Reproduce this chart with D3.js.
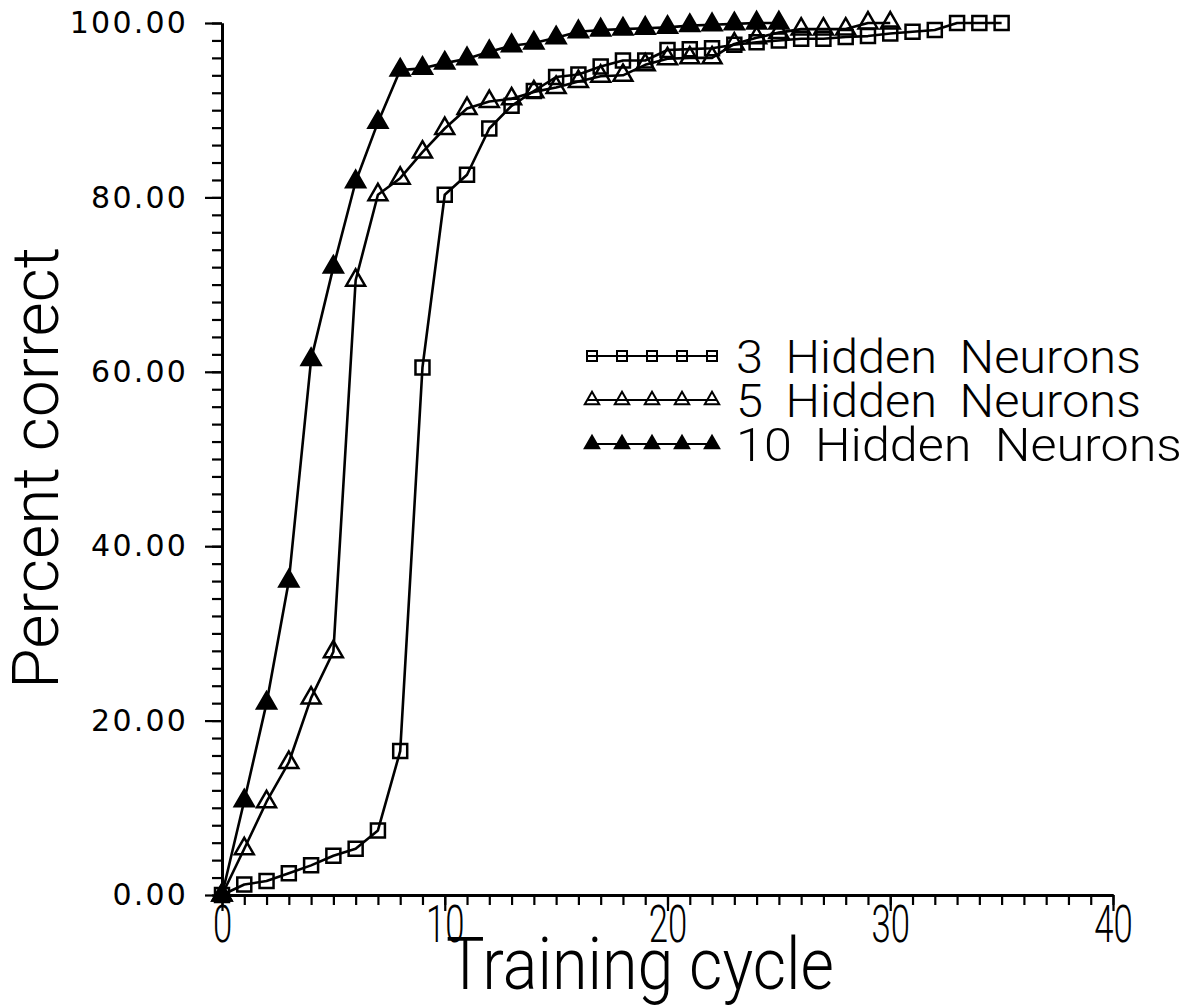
<!DOCTYPE html>
<html>
<head>
<meta charset="utf-8">
<script src="https://cdn.jsdelivr.net/npm/d3@7"></script>
<style>
  body { margin: 0; background: #fff; }
  svg { display: block; }
</style>
</head>
<body>
<svg id="chart" width="1195" height="1008"></svg>
<script>
// Percent correct per training cycle (index = cycle number)
const seriesNames = ["3 Hidden Neurons", "5 Hidden Neurons", "10 Hidden Neurons"];
const hidden3 = [0, 1.2, 1.6, 2.5, 3.4, 4.5, 5.3, 7.4, 16.5, 60.5, 80.3, 82.6, 87.9, 90.5, 92.2,
                 93.8, 94.1, 95.0, 95.7, 95.7, 96.9, 97.0, 97.1, 97.5, 97.8, 98.0, 98.2, 98.2,
                 98.4, 98.5, 98.8, 99.0, 99.2, 100, 100, 100];
const hidden5 = [0, 5.3, 10.7, 15.2, 22.6, 27.9, 70.5, 80.3, 82.2, 85.2, 87.9, 90.2, 91.0, 91.3,
                 92.1, 92.6, 93.3, 93.9, 94.0, 95.2, 95.9, 96.0, 96.0, 97.6, 98.3, 98.9, 99.3,
                 99.3, 99.3, 100, 100];
const hidden10 = [0, 10.8, 22.0, 36.0, 61.4, 72.0, 81.8, 88.6, 94.6, 94.8, 95.4, 95.9, 96.7, 97.4,
                  97.7, 98.3, 99.0, 99.2, 99.3, 99.4, 99.5, 99.7, 99.8, 99.9, 100, 100];
const xTicks = [0, 10, 20, 30, 40];
const yTicks = [0, 20, 40, 60, 80, 100];
const xMinorTicks = [0,1,2,3,4,5,6,7,8,9,10,11,12,13,14,15,16,17,18,19,20,21,22,23,24,25,26,27,28,29,30,31,32,33,34,35,36,37,38,39,40];
const yMinorTicks = [0,2,4,6,8,10,12,14,16,18,20,22,24,26,28,30,32,34,36,38,40,42,44,46,48,50,
                     52,54,56,58,60,62,64,66,68,70,72,74,76,78,80,82,84,86,88,90,92,94,96,98,100];

const svg = d3.select("#chart");
const x = d3.scaleLinear().domain([0, 40]).range([222, 1113]);
const y = d3.scaleLinear().domain([0, 100]).range([895, 23]);

const labelFont = "Roboto, 'DejaVu Sans', sans-serif";

// squeeze a text element horizontally to a given width
function fitWidth(sel, w) {
  sel.each(function () {
    const len = this.getComputedTextLength();
    const cur = d3.select(this);
    const base = cur.attr("transform") || "";
    cur.attr("transform", base + ` scale(${w / len},1)`);
  });
}

// ---- axes ----
const styleAxis = g => {
  g.selectAll("path.domain").attr("stroke", "#000").attr("stroke-width", 3);
  g.selectAll(".tick line").attr("stroke", "#000").attr("stroke-width", 2.2);
};

svg.append("g").attr("transform", "translate(222,0)")
  .call(d3.axisLeft(y).tickValues(yMinorTicks).tickSize(10).tickSizeOuter(0).tickFormat(""))
  .call(styleAxis);
const yAxis = svg.append("g").attr("transform", "translate(222,0)")
  .call(d3.axisLeft(y).tickValues(yTicks).tickSize(17).tickSizeOuter(0).tickPadding(17)
        .tickFormat(d3.format(".2f")))
  .call(styleAxis);
yAxis.selectAll("text")
  .attr("font-family", "'DejaVu Sans', sans-serif")
  .attr("font-size", 30)
  .attr("letter-spacing", 2.2)
  .attr("fill", "#000");

svg.append("g").attr("transform", "translate(0,895)")
  .call(d3.axisBottom(x).tickValues(xMinorTicks).tickSize(10).tickSizeOuter(0).tickFormat(""))
  .call(styleAxis);
const xAxis = svg.append("g").attr("transform", "translate(0,895)")
  .call(d3.axisBottom(x).tickValues(xTicks).tickSize(16).tickSizeOuter(0).tickPadding(-6)
        .tickFormat(d3.format("d")))
  .call(styleAxis);
xAxis.selectAll("text")
  .attr("font-family", labelFont)
  .attr("font-weight", 300)
  .attr("font-size", 51)
  .attr("dy", "0.72em")
  .attr("fill", "#000")
  .attr("transform", "scale(0.68,1)");

// axis titles
const xTitle = svg.append("text")
  .attr("text-anchor", "middle")
  .attr("font-family", labelFont).attr("font-weight", 300)
  .attr("font-size", 73)
  .attr("transform", "translate(640,989)")
  .text("Training cycle");
fitWidth(xTitle, 388);

const yTitle = svg.append("text")
  .attr("text-anchor", "middle")
  .attr("font-family", labelFont).attr("font-weight", 300)
  .attr("font-size", 64)
  .attr("transform", "translate(58,468) rotate(-90)")
  .text("Percent correct");
fitWidth(yTitle, 442);

// ---- series ----
const series = [
  { name: seriesNames[0], values: hidden3,  type: d3.symbolSquare,   size: 196, fill: "none" },
  { name: seriesNames[1], values: hidden5,  type: d3.symbolTriangle, size: 155, fill: "none" },
  { name: seriesNames[2], values: hidden10, type: d3.symbolTriangle, size: 155, fill: "#000" }
];

const line = d3.line().x((d, i) => x(i)).y(d => y(d));

series.forEach(s => {
  svg.append("path")
    .datum(s.values)
    .attr("d", line)
    .attr("fill", "none")
    .attr("stroke", "#000")
    .attr("stroke-width", 2.6)
    .attr("stroke-linejoin", "round");
});

series.forEach(s => {
  const sym = d3.symbol().type(s.type).size(s.size);
  svg.append("g").selectAll("path")
    .data(s.values)
    .join("path")
    .attr("d", sym)
    .attr("transform", (d, i) => `translate(${x(i)},${y(d)})`)
    .attr("fill", s.fill)
    .attr("stroke", "#000")
    .attr("stroke-width", 2.5);
});

// ---- legend ----
const legend = svg.append("g").attr("transform", "translate(588,356)");
const legendMarks = [0, 1, 2, 3, 4];
series.forEach((s, k) => {
  const row = legend.append("g").attr("transform", `translate(0,${k * 44})`);
  row.append("line")
    .attr("x1", 0).attr("x2", 128).attr("y1", 0).attr("y2", 0)
    .attr("stroke", "#000").attr("stroke-width", 2);
  const sym = d3.symbol().type(s.type).size(s.type === d3.symbolSquare ? 100 : 90);
  row.selectAll("path").data(legendMarks).join("path")
    .attr("d", sym)
    .attr("transform", d => `translate(${4 + d * 30},0)`)
    .attr("fill", s.fill)
    .attr("stroke", "#000").attr("stroke-width", 2);
  const t = row.append("text")
    .attr("font-family", labelFont).attr("font-weight", 300)
    .attr("font-size", 46)
    .attr("transform", "translate(148,17)")
    .attr("word-spacing", 10)
    .text(s.name);
  fitWidth(t, k === 2 ? 446 : 405);
});
</script>
</body>
</html>
